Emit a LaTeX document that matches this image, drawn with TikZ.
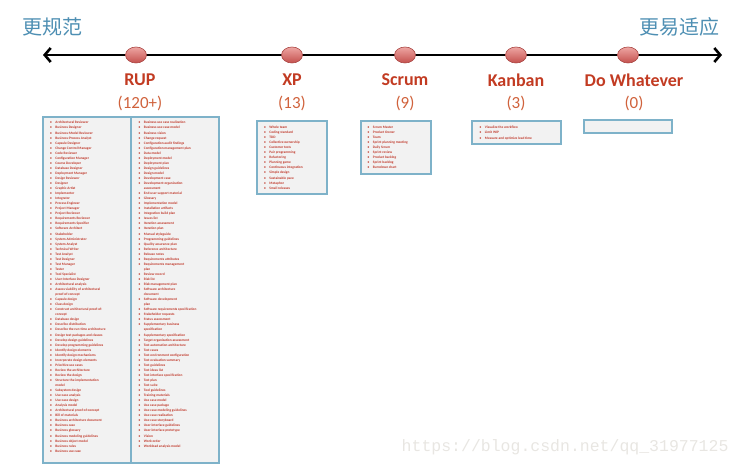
\documentclass[tikz,border=0pt]{standalone}
\usepackage{fontspec}
\setmainfont{Carlito}
\newfontfamily\cjk{Noto Sans CJK SC}
\newfontfamily\wmfont{Liberation Mono}
\usepackage{tikz}
\usetikzlibrary{arrows.meta, shapes.geometric}

\definecolor{cnblue}{HTML}{4E8FB3}
\definecolor{namered}{HTML}{C23B22}
\definecolor{countred}{HTML}{D0623C}
\definecolor{itemred}{HTML}{C0392B}
\definecolor{boxblue}{HTML}{7EB2C9}
\definecolor{boxgray}{HTML}{F2F2F2}
\definecolor{dottop}{HTML}{EEA6A3}
\definecolor{dotbot}{HTML}{C4504D}
\definecolor{dotedge}{HTML}{A94542}
\definecolor{markgray}{HTML}{E8E6E2}

\newcommand\itm[1]{\textbullet & #1\\}
\newcommand\more[1]{ & #1\\}
\newcommand\listfont{\bfseries\fontsize{3.5}{5.05}\selectfont}

\begin{document}
\begin{tikzpicture}[x=1pt, y=-1pt,
    axis/.style={line width=2.6pt, {Straight Barb[length=6pt,width=14pt]}-{Straight Barb[length=6pt,width=14pt]}},
    dot/.style={ellipse, minimum width=21, minimum height=16, inner sep=0, draw=dotedge, line width=0.6pt, top color=dottop, bottom color=dotbot},
    methodname/.style={font=\bfseries\fontsize{18}{18}\selectfont, text=namered},
    methodcount/.style={font=\fontsize{17}{17}\selectfont, text=countred},
    cn/.style={font=\cjk\fontsize{20}{20}\selectfont, text=cnblue},
    listbox/.style={draw=boxblue, fill=boxgray, line width=1.5pt, inner sep=0},
    items/.style={anchor=north west, inner sep=0, text=itemred, font=\listfont},
]
  \useasboundingbox (0,0) rectangle (743,468);

  % ends of the scale
  \node[cn] (formal) at (52,27) {更规范};
  \node[cn] (adapt) at (679,27) {更易适应};

  \coordinate (lend) at (43,55);
  \coordinate (rend) at (722,55);
  \draw[axis] (lend) -- (rend);

  % methods on the scale
  \node[dot] (rup) at (136,55) {};
  \node[dot] (xp) at (292,55) {};
  \node[dot] (scrum) at (405,55) {};
  \node[dot] (kanban) at (516,55) {};
  \node[dot] (dowhat) at (628,55) {};

  \node[methodname] (rupname) at (140,80) {RUP};
  \node[methodcount] (rupcount) at (140,103) {(120+)};
  \node[methodname] (xpname) at (292,80) {XP};
  \node[methodcount] (xpcount) at (292,103) {(13)};
  \node[methodname] (scrumname) at (405,80) {Scrum};
  \node[methodcount] (scrumcount) at (405,103) {(9)};
  \node[methodname] (kanbanname) at (516,80) {Kanban};
  \node[methodcount] (kanbancount) at (516,103) {(3)};
  \node[methodname] (dowhatname) at (634,80) {Do Whatever};
  \node[methodcount] (dowhatcount) at (634,103) {(0)};

  % prescribed things
  \node[listbox, minimum width=88, minimum height=346] (rupa) at (87,290) {};
  \node[listbox, minimum width=88, minimum height=346] (rupb) at (175,290) {};
  \node[listbox, minimum width=70, minimum height=73] (xpbox) at (292,157.5) {};
  \node[listbox, minimum width=70, minimum height=53] (scrumbox) at (396,147.5) {};
  \node[listbox, minimum width=89, minimum height=23] (kanbanbox) at (516.5,132.5) {};
  \node[listbox, minimum width=88, minimum height=13] (dowhatbox) at (628,126.5) {};

  \node[items] (ruplista) at (50,120.2) {\begin{tabular}{@{}l@{\hspace{3.5pt}}l@{}}
    \itm{Architectural Reviewer}
    \itm{Business Designer}
    \itm{Business-Model Reviewer}
    \itm{Business-Process Analyst}
    \itm{Capsule Designer}
    \itm{Change Control Manager}
    \itm{Code Reviewer}
    \itm{Configuration Manager}
    \itm{Course Developer}
    \itm{Database Designer}
    \itm{Deployment Manager}
    \itm{Design Reviewer}
    \itm{Designer}
    \itm{Graphic Artist}
    \itm{Implementer}
    \itm{Integrator}
    \itm{Process Engineer}
    \itm{Project Manager}
    \itm{Project Reviewer}
    \itm{Requirements Reviewer}
    \itm{Requirements Specifier}
    \itm{Software Architect}
    \itm{Stakeholder}
    \itm{System Administrator}
    \itm{System Analyst}
    \itm{Technical Writer}
    \itm{Test Analyst}
    \itm{Test Designer}
    \itm{Test Manager}
    \itm{Tester}
    \itm{Tool Specialist}
    \itm{User-Interface Designer}
    \itm{Architectural analysis}
    \itm{Assess viability of architectural}
    \more{proof-of-concept}
    \itm{Capsule design}
    \itm{Class design}
    \itm{Construct architectural proof-of-}
    \more{concept}
    \itm{Database design}
    \itm{Describe distribution}
    \itm{Describe the run-time architecture}
    \itm{Design test packages and classes}
    \itm{Develop design guidelines}
    \itm{Develop programming guidelines}
    \itm{Identify design elements}
    \itm{Identify design mechanisms}
    \itm{Incorporate design elements}
    \itm{Prioritize use cases}
    \itm{Review the architecture}
    \itm{Review the design}
    \itm{Structure the implementation}
    \more{model}
    \itm{Subsystem design}
    \itm{Use-case analysis}
    \itm{Use-case design}
    \itm{Analysis model}
    \itm{Architectural proof-of-concept}
    \itm{Bill of materials}
    \itm{Business architecture document}
    \itm{Business case}
    \itm{Business glossary}
    \itm{Business modeling guidelines}
    \itm{Business object model}
    \itm{Business rules}
    \itm{Business use case}
  \end{tabular}};

  \node[items] (ruplistb) at (138.5,120.2) {\begin{tabular}{@{}l@{\hspace{3.5pt}}l@{}}
    \itm{Business use case realization}
    \itm{Business use-case model}
    \itm{Business vision}
    \itm{Change request}
    \itm{Configuration audit findings}
    \itm{Configuration management plan}
    \itm{Data model}
    \itm{Deployment model}
    \itm{Deployment plan}
    \itm{Design guidelines}
    \itm{Design model}
    \itm{Development case}
    \itm{Development-organization}
    \more{assessment}
    \itm{End-user support material}
    \itm{Glossary}
    \itm{Implementation model}
    \itm{Installation artifacts}
    \itm{Integration build plan}
    \itm{Issues list}
    \itm{Iteration assessment}
    \itm{Iteration plan}
    \itm{Manual styleguide}
    \itm{Programming guidelines}
    \itm{Quality assurance plan}
    \itm{Reference architecture}
    \itm{Release notes}
    \itm{Requirements attributes}
    \itm{Requirements management}
    \more{plan}
    \itm{Review record}
    \itm{Risk list}
    \itm{Risk management plan}
    \itm{Software architecture}
    \more{document}
    \itm{Software development}
    \more{plan}
    \itm{Software requirements specification}
    \itm{Stakeholder requests}
    \itm{Status assessment}
    \itm{Supplementary business}
    \more{specification}
    \itm{Supplementary specification}
    \itm{Target organization assessment}
    \itm{Test automation architecture}
    \itm{Test cases}
    \itm{Test environment configuration}
    \itm{Test evaluation summary}
    \itm{Test guidelines}
    \itm{Test ideas list}
    \itm{Test interface specification}
    \itm{Test plan}
    \itm{Test suite}
    \itm{Tool guidelines}
    \itm{Training materials}
    \itm{Use case model}
    \itm{Use case package}
    \itm{Use-case modeling guidelines}
    \itm{Use-case realization}
    \itm{Use-case storyboard}
    \itm{User-interface guidelines}
    \itm{User-interface prototype}
    \itm{Vision}
    \itm{Work order}
    \itm{Workload analysis model}
  \end{tabular}};

  \node[items] (xplist) at (264,124.8) {\begin{tabular}{@{}l@{\hspace{3.5pt}}l@{}}
    \itm{Whole team}
    \itm{Coding standard}
    \itm{TDD}
    \itm{Collective ownership}
    \itm{Customer tests}
    \itm{Pair programming}
    \itm{Refactoring}
    \itm{Planning game}
    \itm{Continuous integration}
    \itm{Simple design}
    \itm{Sustainable pace}
    \itm{Metaphor}
    \itm{Small releases}
  \end{tabular}};

  \node[items] (scrumlist) at (367.5,124.8) {\begin{tabular}{@{}l@{\hspace{3.5pt}}l@{}}
    \itm{Scrum Master}
    \itm{Product Owner}
    \itm{Team}
    \itm{Sprint planning meeting}
    \itm{Daily Scrum}
    \itm{Sprint review}
    \itm{Product backlog}
    \itm{Sprint backlog}
    \itm{Burndown chart}
  \end{tabular}};

  \node[items] (kanbanlist) at (479.5,125.2) {\begin{tabular}{@{}l@{\hspace{3.5pt}}l@{}}
    \itm{Visualize the workflow}
    \itm{Limit WIP}
    \itm{Measure and optimize lead time}
  \end{tabular}};

  \node[font=\wmfont\fontsize{16.5}{16.5}\selectfont, text=markgray, anchor=east] (mark) at (732,447) {https://blog.csdn.net/qq\_31977125};
\end{tikzpicture}
\end{document}
